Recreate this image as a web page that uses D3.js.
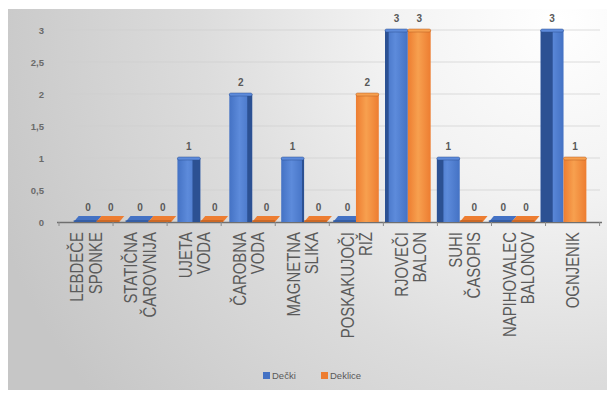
<!DOCTYPE html>
<html>
<head>
<meta charset="utf-8">
<script src="https://cdn.jsdelivr.net/npm/d3@7"></script>
<style>
  body { margin: 0; background: #fff; }
  text { font-family: "Liberation Sans", Arial, sans-serif; }
</style>
</head>
<body>
<div id="chart"></div>
<script>
// Podatki
const categories = [
  ["LEBDEČE", "SPONKE"],
  ["STATIČNA", "ČAROVNIJA"],
  ["UJETA", "VODA"],
  ["ČAROBNA", "VODA"],
  ["MAGNETNA", "SLIKA"],
  ["POSKAKUJOČI", "RIŽ"],
  ["RJOVEČI", "BALON"],
  ["SUHI", "ČASOPIS"],
  ["NAPIHOVALEC", "BALONOV"],
  ["OGNJENIK"]
];
const series = ["Dečki", "Deklice"];
const decki = [0, 0, 1, 2, 1, 0, 3, 1, 0, 3];
const deklice = [0, 0, 0, 0, 0, 2, 3, 0, 0, 1];
const yTicks = [0, 0.5, 1, 1.5, 2, 2.5, 3];

const WIDTH = 615, HEIGHT = 394;
const colors = {
  "Dečki": { light: "#5d8bdb", base: "#4472c4", dark: "#2c5193" },
  "Deklice": { light: "#f7a04f", base: "#ed7d31", dark: "#b65c20" }
};

const svg = d3.select("#chart").append("svg")
  .attr("width", WIDTH)
  .attr("height", HEIGHT);

const defs = svg.append("defs");

// ozadje
const bg = defs.append("radialGradient")
  .attr("id", "bg")
  .attr("gradientUnits", "userSpaceOnUse")
  .attr("cx", 560).attr("cy", 20).attr("r", 600);
bg.append("stop").attr("offset", "0%").attr("stop-color", "#ffffff");
bg.append("stop").attr("offset", "30%").attr("stop-color", "#f2f2f2");
bg.append("stop").attr("offset", "60%").attr("stop-color", "#dcdcdc");
bg.append("stop").attr("offset", "100%").attr("stop-color", "#c6c6c6");

series.forEach((s, i) => {
  const g = defs.append("linearGradient")
    .attr("id", "grad" + i)
    .attr("x1", "0%").attr("x2", "100%").attr("y1", "0%").attr("y2", "0%");
  g.append("stop").attr("offset", "0%").attr("stop-color", colors[s].base);
  g.append("stop").attr("offset", "45%").attr("stop-color", colors[s].light);
  g.append("stop").attr("offset", "100%").attr("stop-color", colors[s].base);
});

svg.append("rect")
  .attr("x", 8).attr("y", 9)
  .attr("width", 599).attr("height", 381)
  .attr("fill", "url(#bg)");

// Skale
const y = d3.scaleLinear().domain([0, 3]).range([222, 30]);
const xLabel = d3.scaleBand().domain(d3.range(categories.length)).range([59, 599.6]);
const xBar = d3.scaleBand().domain(d3.range(categories.length)).range([70, 590]).paddingInner(0.12).paddingOuter(0.07);
const xSeries = d3.scaleBand().domain(series).range([0, xBar.bandwidth()]);

// mreža
svg.append("g")
  .selectAll("line")
  .data(yTicks.filter(d => d > 0))
  .join("line")
  .attr("x1", 60).attr("x2", 600)
  .attr("y1", d => y(d)).attr("y2", d => y(d))
  .attr("stroke", "#cfcfcf")
  .attr("stroke-opacity", 0.7)
  .attr("stroke-width", 1);

// os y
svg.append("g")
  .selectAll("text")
  .data(yTicks)
  .join("text")
  .attr("x", 44)
  .attr("y", d => y(d) + 3.5)
  .attr("text-anchor", "end")
  .attr("font-size", 9.5)
  .attr("font-weight", "bold")
  .attr("fill", "#6a6a6a")
  .text(d => String(d).replace(".", ","));

// os x
const axisG = svg.append("g");
axisG.append("line")
  .attr("x1", 57).attr("x2", 602)
  .attr("y1", y(0) + 0.5).attr("y2", y(0) + 0.5)
  .attr("stroke", "#6f6f6f").attr("stroke-width", 1.5);
axisG.selectAll(".tick")
  .data(d3.range(categories.length + 1))
  .join("line")
  .attr("class", "tick")
  .attr("x1", d => d < categories.length ? xLabel(d) : xLabel.range()[1])
  .attr("x2", d => d < categories.length ? xLabel(d) : xLabel.range()[1])
  .attr("y1", y(0)).attr("y2", y(0) + 4)
  .attr("stroke", "#8a8a8a");

// stolpci
const vp = 330;
const rows = [];
categories.forEach((c, i) => {
  rows.push({ i, s: "Dečki", si: 0, v: decki[i] });
  rows.push({ i, s: "Deklice", si: 1, v: deklice[i] });
});

const barG = svg.append("g");
rows.forEach(d => {
  const x0 = xBar(d.i) + xSeries(d.s);
  const w = xSeries.bandwidth();
  const y0 = y(0);
  const c = colors[d.s];
  if (d.v === 0) {
    barG.append("path")
      .attr("d", `M${x0},${y0} L${x0 + w},${y0} L${x0 + w + 5},${y0 - 6} L${x0 + 5},${y0 - 6} Z`)
      .attr("fill", c.base);
    barG.append("path")
      .attr("d", `M${x0},${y0} L${x0 + w},${y0} L${x0 + w},${y0 - 2} L${x0},${y0 - 2} Z`)
      .attr("fill", c.dark)
      .attr("opacity", 0.6);
  } else {
    const yt = y(d.v);
    barG.append("rect")
      .attr("x", x0).attr("y", yt)
      .attr("width", w).attr("height", y0 - yt)
      .attr("fill", `url(#grad${d.si})`);
    const cx = x0 + w / 2;
    const side = Math.min(12, Math.abs(cx - vp) * 0.055);
    // stranska ploskev: levo samo pri prvem stolpcu skupine
    if (cx < vp || d.si === 0) {
      const sx = cx > vp ? x0 : x0 + w - side;
      barG.append("rect")
        .attr("x", sx).attr("y", yt)
        .attr("width", side).attr("height", y0 - yt)
        .attr("fill", c.dark);
    }
    barG.append("rect")
      .attr("x", x0).attr("y", yt - 1)
      .attr("width", w).attr("height", 3)
      .attr("rx", 1.5)
      .attr("fill", c.light)
      .attr("stroke", c.dark)
      .attr("stroke-width", 0.5);
  }
  barG.append("text")
    .attr("x", x0 + w / 2 + (d.v === 0 ? 3 : 0))
    .attr("y", y(d.v) - (d.v === 0 ? 11 : 8))
    .attr("text-anchor", "middle")
    .attr("font-size", 10)
    .attr("font-weight", "bold")
    .attr("fill", "#595959")
    .text(d.v);
});

// oznake kategorij
const labelG = svg.append("g");
categories.forEach((lines, i) => {
  const cx = xLabel(i) + xLabel.bandwidth() / 2;
  const n = lines.length;
  lines.forEach((t, j) => {
    const lx = cx + (j - (n - 1) / 2) * 18.3 + 6.5;
    labelG.append("text")
      .attr("transform", `translate(${lx},232) rotate(-90) scale(0.83,1)`)
      .attr("text-anchor", "end")
      .attr("font-size", 18)
      .attr("fill", "#5a5a5a")
      .text(t);
  });
});

// legenda
const legend = svg.append("g").attr("transform", "translate(263,376)");
const legendX = [0, 58];
series.forEach((s, i) => {
  const g = legend.append("g").attr("transform", `translate(${legendX[i]},0)`);
  g.append("rect")
    .attr("x", 0).attr("y", -4)
    .attr("width", 7).attr("height", 7)
    .attr("fill", colors[s].base);
  g.append("text")
    .attr("x", 9).attr("y", 3)
    .attr("font-size", 9.5)
    .attr("fill", "#595959")
    .text(s);
});
</script>
</body>
</html>
